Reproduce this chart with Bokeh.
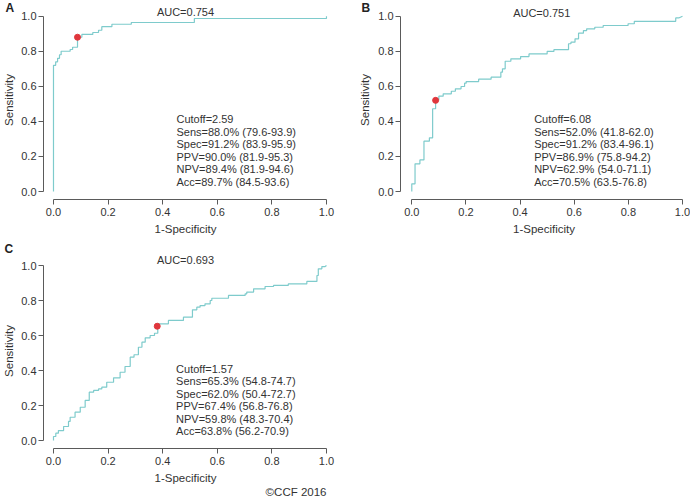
from bokeh.plotting import figure
from bokeh.models import Label, FixedTicker, PrintfTickFormatter, Range1d, Title
from bokeh.layouts import column, row
from bokeh.embed import file_html
from bokeh.resources import INLINE
from bokeh.core.properties import value

# ---------------- data ----------------
ticks = [0.0, 0.2, 0.4, 0.6, 0.8, 1.0]

# Panel A ROC vertices (1-Specificity, Sensitivity)
a_fpr = [0, 0, 0.008, 0.008, 0.015, 0.015, 0.022, 0.022, 0.028, 0.028, 0.061, 0.061, 0.07, 0.07,
         0.088, 0.088, 0.104, 0.104, 0.144, 0.144, 0.165, 0.165, 0.177, 0.177, 0.214, 0.214,
         0.285, 0.285, 0.516, 0.516, 1.0, 1.0]
a_tpr = [0, 0.72, 0.72, 0.74, 0.74, 0.76, 0.76, 0.78, 0.78, 0.80, 0.80, 0.81, 0.81, 0.823,
         0.823, 0.88, 0.88, 0.896, 0.896, 0.907, 0.907, 0.92, 0.92, 0.94, 0.94, 0.954,
         0.954, 0.964, 0.964, 0.987, 0.987, 1.0]

# Panel B ROC vertices
b_fpr = [0, 0, 0.012, 0.012, 0.030, 0.030, 0.045, 0.045, 0.065, 0.065, 0.077, 0.077, 0.088, 0.088,
         0.100, 0.100, 0.116, 0.116, 0.146, 0.146, 0.161, 0.161, 0.182, 0.182, 0.195, 0.195,
         0.201, 0.201, 0.247, 0.247, 0.293, 0.293, 0.329, 0.329, 0.335, 0.335, 0.345, 0.345,
         0.366, 0.366, 0.402, 0.402, 0.433, 0.433, 0.500, 0.500, 0.525, 0.525, 0.579, 0.579,
         0.588, 0.588, 0.603, 0.603, 0.616, 0.616, 0.634, 0.634, 0.646, 0.646, 0.676, 0.676,
         0.707, 0.707, 0.799, 0.799, 0.822, 0.822, 0.975, 0.975, 0.986, 1.0]
b_tpr = [0, 0.044, 0.044, 0.158, 0.158, 0.18, 0.18, 0.287, 0.287, 0.306, 0.306, 0.472, 0.472, 0.523,
         0.523, 0.544, 0.544, 0.557, 0.557, 0.572, 0.572, 0.586, 0.586, 0.599, 0.599, 0.618,
         0.618, 0.627, 0.627, 0.641, 0.641, 0.652, 0.652, 0.681, 0.681, 0.70, 0.70, 0.743,
         0.743, 0.757, 0.757, 0.77, 0.77, 0.785, 0.785, 0.799, 0.799, 0.809, 0.809, 0.843,
         0.843, 0.852, 0.852, 0.871, 0.871, 0.903, 0.903, 0.918, 0.918, 0.928, 0.928, 0.937,
         0.937, 0.947, 0.947, 0.957, 0.957, 0.971, 0.971, 0.99, 0.99, 1.0]

# Panel C ROC vertices
c_fpr = [0, 0, 0.0085, 0.0085, 0.018, 0.018, 0.037, 0.037, 0.055, 0.055, 0.061, 0.061, 0.079, 0.079,
         0.098, 0.098, 0.116, 0.116, 0.131, 0.131, 0.147, 0.147, 0.165, 0.165, 0.177, 0.177,
         0.195, 0.195, 0.22, 0.22, 0.244, 0.244, 0.262, 0.262, 0.281, 0.281, 0.295, 0.295,
         0.311, 0.311, 0.324, 0.324, 0.336, 0.336, 0.354, 0.354, 0.37, 0.37, 0.382, 0.382,
         0.421, 0.421, 0.476, 0.476, 0.509, 0.509, 0.525, 0.525, 0.537, 0.537, 0.555, 0.555,
         0.574, 0.574, 0.58, 0.58, 0.641, 0.641, 0.702, 0.702, 0.708, 0.708, 0.733, 0.733,
         0.775, 0.775, 0.806, 0.806, 0.86, 0.86, 0.928, 0.928, 0.965, 0.965, 0.97, 0.97,
         0.983, 0.983, 0.995, 1.0]
c_tpr = [0, 0.023, 0.023, 0.042, 0.042, 0.057, 0.057, 0.08, 0.08, 0.109, 0.109, 0.133, 0.133, 0.162,
         0.162, 0.19, 0.19, 0.229, 0.229, 0.276, 0.276, 0.286, 0.286, 0.295, 0.295, 0.305,
         0.305, 0.333, 0.333, 0.358, 0.358, 0.39, 0.39, 0.423, 0.423, 0.476, 0.476, 0.49,
         0.49, 0.533, 0.533, 0.562, 0.562, 0.587, 0.587, 0.60, 0.60, 0.613, 0.613, 0.667,
         0.667, 0.686, 0.686, 0.705, 0.705, 0.747, 0.747, 0.762, 0.762, 0.771, 0.771, 0.781,
         0.781, 0.80, 0.80, 0.813, 0.813, 0.829, 0.829, 0.838, 0.838, 0.848, 0.848, 0.867,
         0.867, 0.88, 0.88, 0.886, 0.886, 0.895, 0.895, 0.909, 0.909, 0.943, 0.943, 0.981,
         0.981, 0.994, 0.994, 1.0]

panel_letters = ["A", "B", "C"]
auc_values = [0.754, 0.751, 0.693]
cut_sens = [88.0, 52.0, 65.3]
cut_spec = [91.2, 91.2, 62.0]

a_stats = ["Cutoff=2.59", "Sens=88.0% (79.6-93.9)", "Spec=91.2% (83.9-95.9)",
           "PPV=90.0% (81.9-95.3)", "NPV=89.4% (81.9-94.6)", "Acc=89.7% (84.5-93.6)"]
b_stats = ["Cutoff=6.08", "Sens=52.0% (41.8-62.0)", "Spec=91.2% (83.4-96.1)",
           "PPV=86.9% (75.8-94.2)", "NPV=62.9% (54.0-71.1)", "Acc=70.5% (63.5-76.8)"]
c_stats = ["Cutoff=1.57", "Sens=65.3% (54.8-74.7)", "Spec=62.0% (50.4-72.7)",
           "PPV=67.4% (56.8-76.8)", "NPV=59.8% (48.3-70.4)", "Acc=63.8% (56.2-70.9)"]

x_title = "1-Specificity"
y_title = "Sensitivity"
credit = "\u00a9CCF 2016"

# ---------------- style ----------------
FONT = "Liberation Sans"
TXT = "#333333"
AXC = "#5a5a5a"
CURVE = "#7ecbcc"
DOT = "#e0363c"


def panel(fpr, tpr, idx, stats, xr, yr, fw, fh, mbl, mbr, mbt, mbb, ylab_standoff,
          auc_xy, stats_xy, letter_offset, letter_standoff):
    p = figure(frame_width=fw, frame_height=fh, x_range=Range1d(*xr), y_range=Range1d(*yr),
               output_backend="svg", toolbar_location=None,
               min_border_left=mbl, min_border_right=mbr, min_border_top=mbt, min_border_bottom=mbb)
    p.outline_line_color = None
    p.grid.visible = False
    p.background_fill_color = "white"
    p.border_fill_color = "white"
    for ax in (p.xaxis[0], p.yaxis[0]):
        ax.bounds = (0, 1)
        ax.ticker = FixedTicker(ticks=ticks)
        ax.formatter = PrintfTickFormatter(format="%.1f")
        ax.minor_tick_line_color = None
        ax.major_tick_in = 0
        ax.major_tick_out = 5
        ax.axis_line_color = AXC
        ax.major_tick_line_color = AXC
        ax.major_label_text_color = TXT
        ax.major_label_text_font = FONT
        ax.major_label_text_font_size = "11px"
        ax.axis_label_text_font = FONT
        ax.axis_label_text_font_size = "11.5px"
        ax.axis_label_text_font_style = "normal"
        ax.axis_label_text_color = TXT
    p.xaxis.axis_label = x_title
    p.yaxis.axis_label = y_title
    p.xaxis.major_label_standoff = 3
    p.yaxis.major_label_standoff = 2
    p.xaxis.axis_label_standoff = 4
    p.yaxis.axis_label_standoff = ylab_standoff

    # panel letter as the figure title, pulled down beside the frame
    p.title.text = panel_letters[idx]
    p.title.align = "left"
    p.title.vertical_align = "bottom"
    p.title.offset = letter_offset
    p.title.standoff = letter_standoff
    p.title.text_font = FONT
    p.title.text_font_size = "12px"
    p.title.text_font_style = "bold"
    p.title.text_color = "#222222"

    p.line(fpr, tpr, line_color=CURVE, line_width=1.2)
    p.scatter([1 - cut_spec[idx] / 100.0], [cut_sens[idx] / 100.0], size=6,
              fill_color=DOT, line_color=DOT)

    p.add_layout(Label(x=auc_xy[0], y=auc_xy[1], text="AUC=%.3f" % auc_values[idx],
                       text_align="center", text_baseline="middle", text_font=FONT,
                       text_font_size="11px", text_color=TXT))
    dy = 0.0713
    p.text(x=[stats_xy[0]] * len(stats), y=[stats_xy[1] - i * dy for i in range(len(stats))],
           text=stats, text_font=value(FONT), text_font_size="11px", text_color=TXT,
           text_baseline="middle", text_align="left")
    return p


pA = panel(a_fpr, a_tpr, 0, a_stats, (-0.0366, 1.0037), (-0.0456, 1.0896), 284, 199,
           40, 21, 0, 39, 3, (0.4835, 1.023), (0.4505, 0.411), -38, -29)
pB = panel(b_fpr, b_tpr, 1, b_stats, (-0.0417, 1.0185), (-0.0456, 1.0896), 287, 199,
           52, 6, 0, 39, 4, (0.48, 1.021), (0.452, 0.411), -39, -29)
pC = panel(c_fpr, c_tpr, 2, c_stats, (-0.0366, 1.0037), (-0.0457, 1.0686), 284, 195,
           40, 21, 15, 52, 3, (0.4835, 1.029), (0.449, 0.41), -39, -5)

pC.add_layout(Title(text=credit, align="right", vertical_align="top", offset=1, standoff=-2,
                    text_font=FONT, text_font_size="11.5px", text_font_style="normal",
                    text_color=TXT), "below")

layout = column(row(pA, pB), pC)
open("out.html", "w").write(file_html(layout, INLINE))
